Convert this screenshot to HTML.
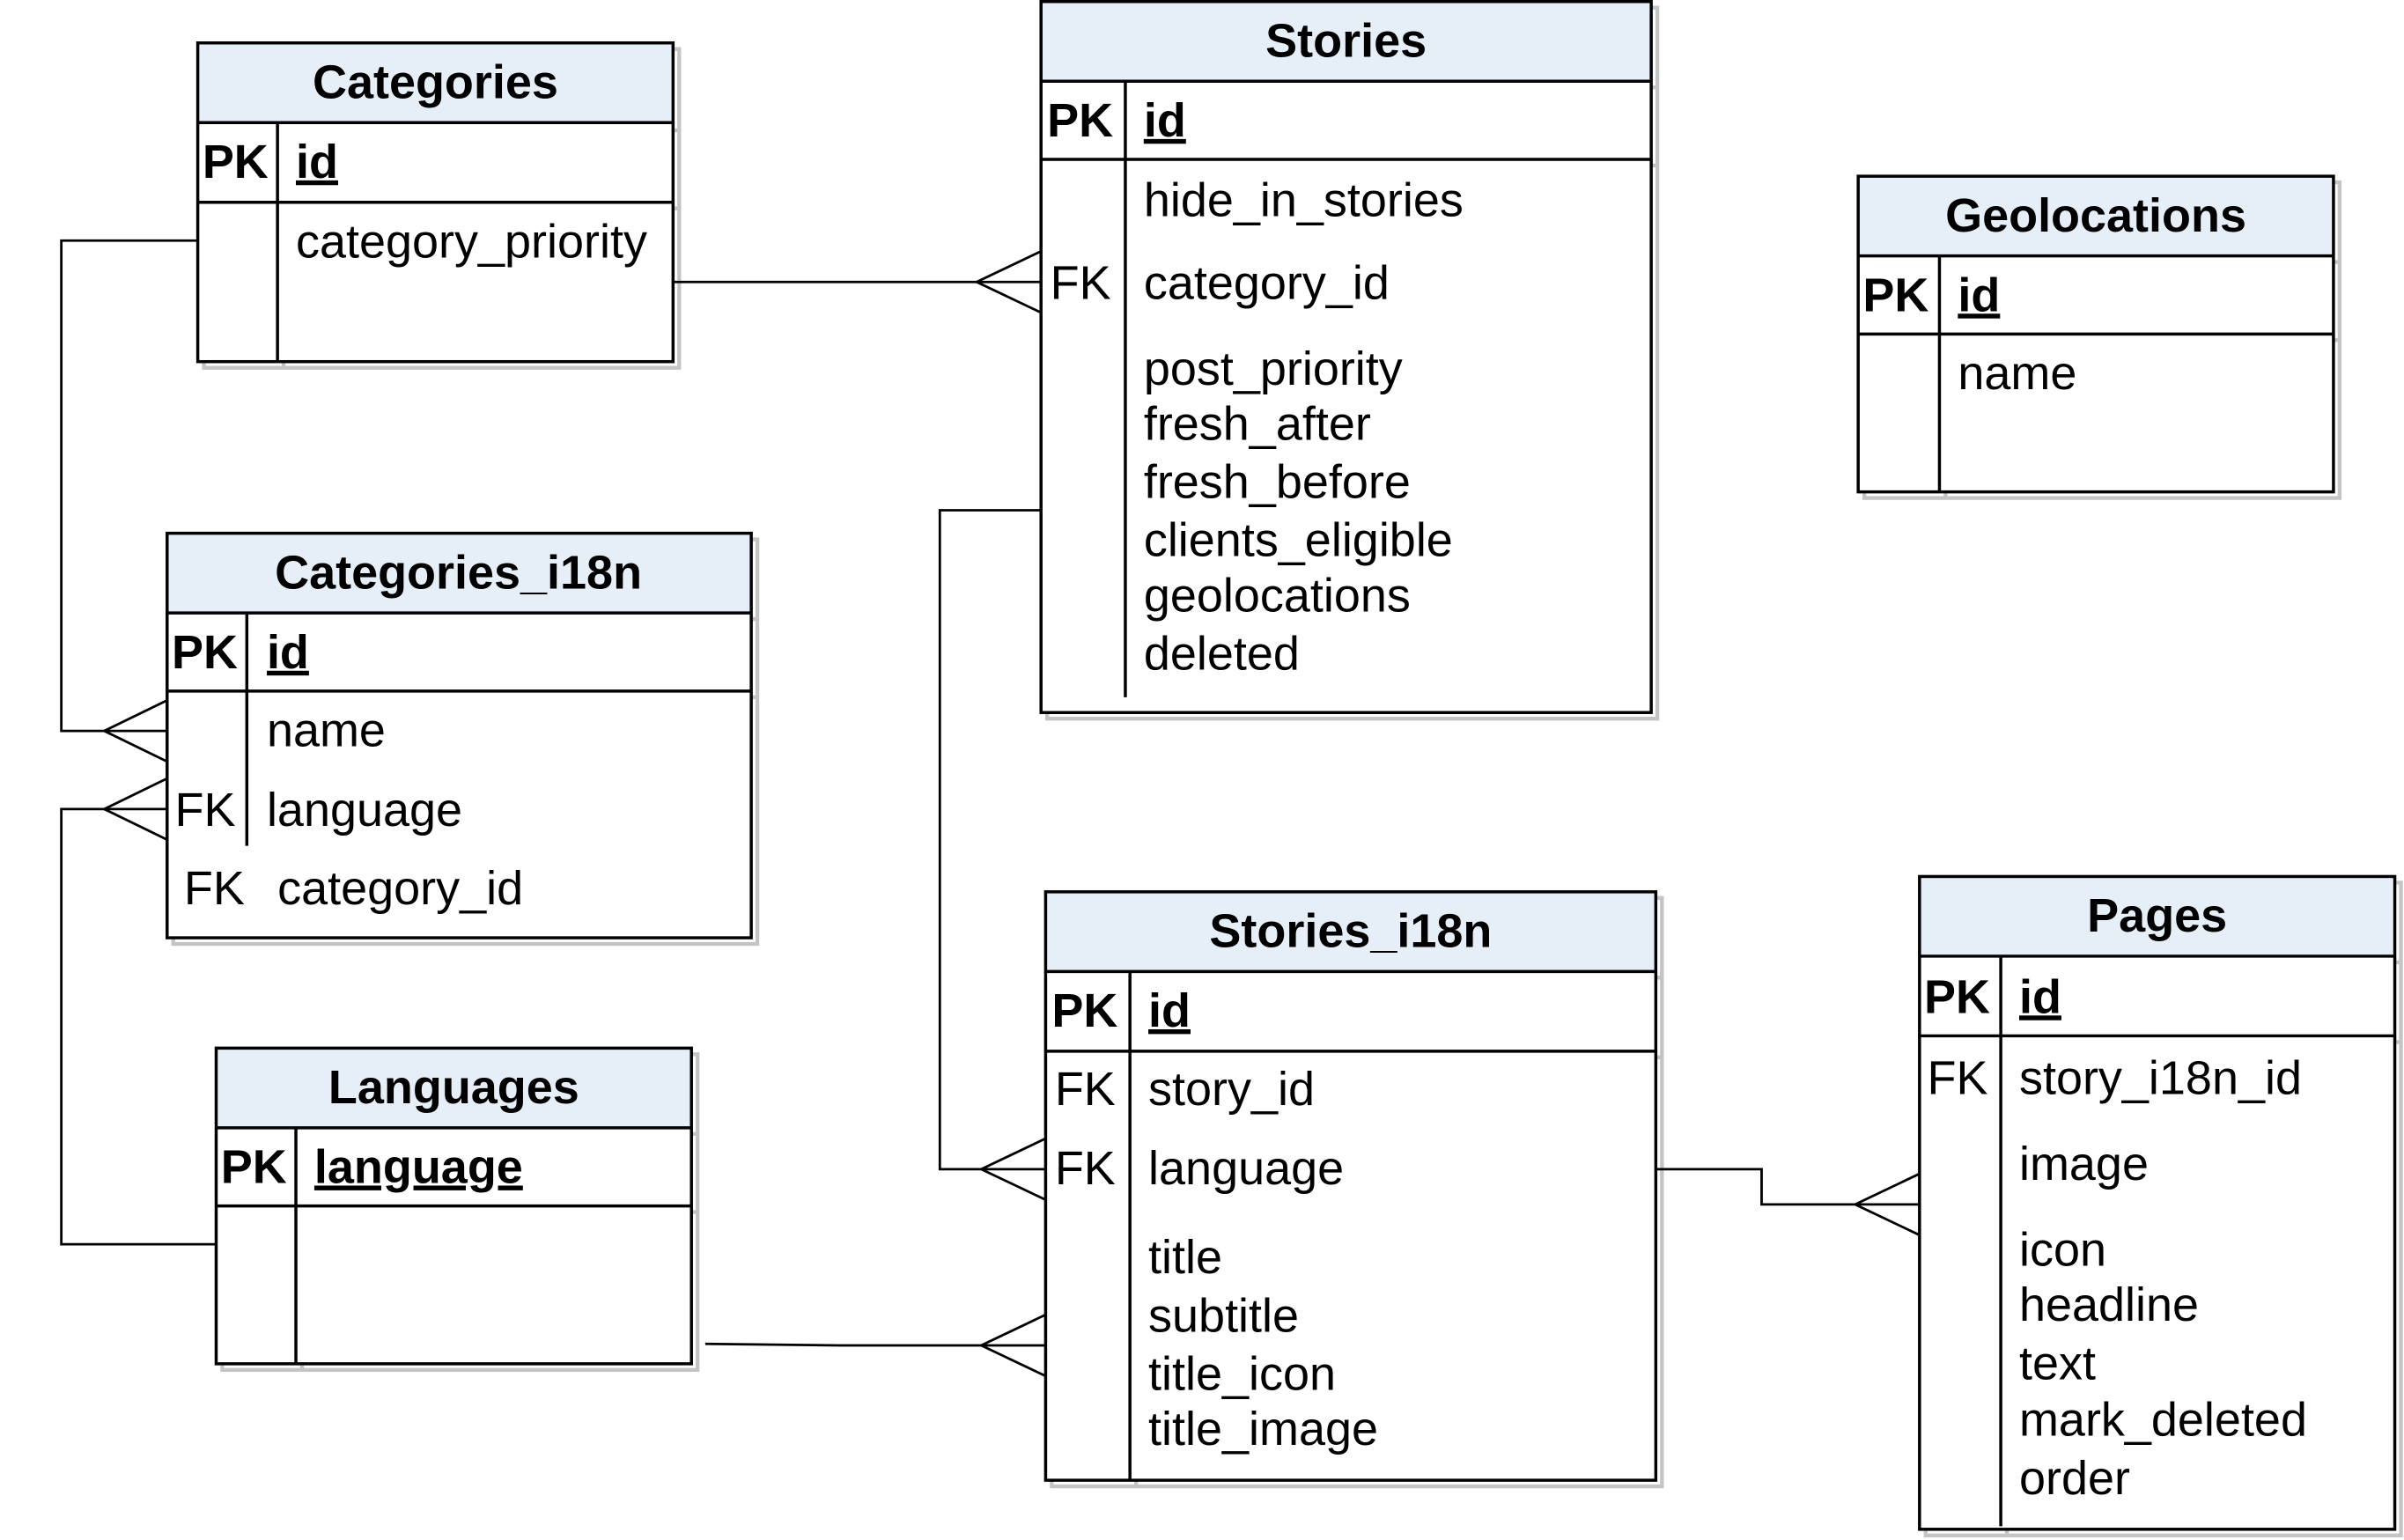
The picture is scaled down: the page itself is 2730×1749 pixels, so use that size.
<!DOCTYPE html>
<html><head><meta charset="utf-8"><style>
html,body{margin:0;padding:0;background:#fff;}
svg{display:block;}
text{font-family:"Liberation Sans",Arial,sans-serif;font-size:31px;fill:#000;}
.b{font-weight:bold;}
</style></head><body>
<svg width="2730" height="1749" viewBox="0 0 1568 1005" preserveAspectRatio="none" xmlns="http://www.w3.org/2000/svg">
<defs>
<style>
.sh{fill:none;stroke:#c4c4c4;stroke-width:2.5}
.ln{fill:none;stroke:#000;stroke-width:2}
.ln2{fill:none;stroke:#000;stroke-width:1.6}
.hd{fill:#e6eef8;stroke:none}
</style>
</defs>

<g>
<rect class="sh" x="133" y="32" width="310" height="208"/>
<line class="sh" x1="133" y1="85" x2="443" y2="85"/><line class="sh" x1="133" y1="136" x2="443" y2="136"/><line class="sh" x1="185" y1="85" x2="185" y2="240"/>
<rect x="129" y="28" width="310" height="208" fill="#fff"/>
<rect class="hd" x="129" y="28" width="310" height="52"/>
<rect class="ln" x="129" y="28" width="310" height="208"/>
<line class="ln" x1="129" y1="80" x2="439" y2="80"/><line class="ln" x1="129" y1="132" x2="439" y2="132"/>
<line class="ln" x1="181" y1="80" x2="181" y2="236"/>
<text class="b" x="284" y="64" text-anchor="middle">Categories</text>
<text class="b" x="132" y="116">PK</text>
<text class="b" x="193" y="116" text-decoration="underline">id</text>
<text x="193" y="168">category_priority</text>
</g>

<g>
<rect class="sh" x="683" y="5" width="398" height="464"/>
<line class="sh" x1="683" y1="57" x2="1081" y2="57"/><line class="sh" x1="683" y1="108" x2="1081" y2="108"/><line class="sh" x1="738" y1="57" x2="738" y2="457"/>
<rect x="679" y="1" width="398" height="464" fill="#fff"/>
<rect class="hd" x="679" y="1" width="398" height="52"/>
<rect class="ln" x="679" y="1" width="398" height="464"/>
<line class="ln" x1="679" y1="53" x2="1077" y2="53"/><line class="ln" x1="679" y1="104" x2="1077" y2="104"/>
<line class="ln" x1="734" y1="53" x2="734" y2="455"/>
<text class="b" x="878" y="37" text-anchor="middle">Stories</text>
<text class="b" x="683" y="89">PK</text>
<text class="b" x="746" y="89" text-decoration="underline">id</text>
<text x="746" y="141">hide_in_stories</text>
<text x="685" y="195">FK</text>
<text x="746" y="195">category_id</text>
<text x="746" y="251">post_priority</text>
<text x="746" y="287">fresh_after</text>
<text x="746" y="325">fresh_before</text>
<text x="746" y="363">clients_eligible</text>
<text x="746" y="399">geolocations</text>
<text x="746" y="437">deleted</text>
</g>

<g>
<rect class="sh" x="1216" y="119" width="310" height="206"/>
<line class="sh" x1="1216" y1="171" x2="1526" y2="171"/><line class="sh" x1="1216" y1="222" x2="1526" y2="222"/><line class="sh" x1="1269" y1="171" x2="1269" y2="325"/>
<rect x="1212" y="115" width="310" height="206" fill="#fff"/>
<rect class="hd" x="1212" y="115" width="310" height="52"/>
<rect class="ln" x="1212" y="115" width="310" height="206"/>
<line class="ln" x1="1212" y1="167" x2="1522" y2="167"/><line class="ln" x1="1212" y1="218" x2="1522" y2="218"/>
<line class="ln" x1="1265" y1="167" x2="1265" y2="321"/>
<text class="b" x="1367" y="151" text-anchor="middle">Geolocations</text>
<text class="b" x="1215" y="203">PK</text>
<text class="b" x="1277" y="203" text-decoration="underline">id</text>
<text x="1277" y="254">name</text>
</g>

<g>
<rect class="sh" x="113" y="352" width="381" height="264"/>
<line class="sh" x1="113" y1="404" x2="494" y2="404"/><line class="sh" x1="113" y1="455" x2="494" y2="455"/><line class="sh" x1="165" y1="404" x2="165" y2="556"/>
<rect x="109" y="348" width="381" height="264" fill="#fff"/>
<rect class="hd" x="109" y="348" width="381" height="52"/>
<rect class="ln" x="109" y="348" width="381" height="264"/>
<line class="ln" x1="109" y1="400" x2="490" y2="400"/><line class="ln" x1="109" y1="451" x2="490" y2="451"/>
<line class="ln" x1="161" y1="400" x2="161" y2="552"/>
<text class="b" x="299" y="384" text-anchor="middle">Categories_i18n</text>
<text class="b" x="112" y="436">PK</text>
<text class="b" x="174" y="436" text-decoration="underline">id</text>
<text x="174" y="487">name</text>
<text x="114" y="539">FK</text>
<text x="174" y="539">language</text>
<text x="120" y="590">FK</text>
<text x="181" y="590">category_id</text>
</g>

<g>
<rect class="sh" x="145" y="688" width="310" height="206"/>
<line class="sh" x1="145" y1="740" x2="455" y2="740"/><line class="sh" x1="145" y1="791" x2="455" y2="791"/><line class="sh" x1="197" y1="740" x2="197" y2="894"/>
<rect x="141" y="684" width="310" height="206" fill="#fff"/>
<rect class="hd" x="141" y="684" width="310" height="52"/>
<rect class="ln" x="141" y="684" width="310" height="206"/>
<line class="ln" x1="141" y1="736" x2="451" y2="736"/><line class="ln" x1="141" y1="787" x2="451" y2="787"/>
<line class="ln" x1="193" y1="736" x2="193" y2="890"/>
<text class="b" x="296" y="720" text-anchor="middle">Languages</text>
<text class="b" x="144" y="772">PK</text>
<text class="b" x="205" y="772" text-decoration="underline">language</text>
</g>

<g>
<rect class="sh" x="686" y="586" width="398" height="384"/>
<line class="sh" x1="686" y1="638" x2="1084" y2="638"/><line class="sh" x1="686" y1="690" x2="1084" y2="690"/><line class="sh" x1="741" y1="638" x2="741" y2="970"/>
<rect x="682" y="582" width="398" height="384" fill="#fff"/>
<rect class="hd" x="682" y="582" width="398" height="52"/>
<rect class="ln" x="682" y="582" width="398" height="384"/>
<line class="ln" x1="682" y1="634" x2="1080" y2="634"/><line class="ln" x1="682" y1="686" x2="1080" y2="686"/>
<line class="ln" x1="737" y1="634" x2="737" y2="966"/>
<text class="b" x="881" y="618" text-anchor="middle">Stories_i18n</text>
<text class="b" x="686" y="670">PK</text>
<text class="b" x="749" y="670" text-decoration="underline">id</text>
<text x="688" y="721">FK</text>
<text x="749" y="721">story_id</text>
<text x="688" y="773">FK</text>
<text x="749" y="773">language</text>
<text x="749" y="831">title</text>
<text x="749" y="869">subtitle</text>
<text x="749" y="907">title_icon</text>
<text x="749" y="943">title_image</text>
</g>

<g>
<rect class="sh" x="1256" y="576" width="310" height="426"/>
<line class="sh" x1="1256" y1="628" x2="1566" y2="628"/><line class="sh" x1="1256" y1="680" x2="1566" y2="680"/><line class="sh" x1="1309" y1="628" x2="1309" y2="1002"/>
<rect x="1252" y="572" width="310" height="426" fill="#fff"/>
<rect class="hd" x="1252" y="572" width="310" height="52"/>
<rect class="ln" x="1252" y="572" width="310" height="426"/>
<line class="ln" x1="1252" y1="624" x2="1562" y2="624"/><line class="ln" x1="1252" y1="676" x2="1562" y2="676"/>
<line class="ln" x1="1305" y1="624" x2="1305" y2="996"/>
<text class="b" x="1407" y="608" text-anchor="middle">Pages</text>
<text class="b" x="1255" y="661">PK</text>
<text class="b" x="1317" y="661" text-decoration="underline">id</text>
<text x="1257" y="714">FK</text>
<text x="1317" y="714">story_i18n_id</text>
<text x="1317" y="770">image</text>
<text x="1317" y="826">icon</text>
<text x="1317" y="862">headline</text>
<text x="1317" y="900">text</text>
<text x="1317" y="937">mark_deleted</text>
<text x="1317" y="975">order</text>
</g>

<g class="ln2">
<polyline class="ln2" points="439,184 679,184"/>
<polyline class="ln2" points="679,164 637,184 679,204"/>
<polyline class="ln2" points="129,157 40,157 40,477 109,477"/>
<polyline class="ln2" points="109,457 68,477 109,497"/>
<polyline class="ln2" points="141,812 40,812 40,528 109,528"/>
<polyline class="ln2" points="109,508 68,528 109,548"/>
<polyline class="ln2" points="679,333 613,333 613,763 682,763"/>
<polyline class="ln2" points="682,743 640,763 682,783"/>
<polyline class="ln2" points="460,877 548,878 682,878"/>
<polyline class="ln2" points="682,858 640,878 682,898"/>
<polyline class="ln2" points="1080,763 1149,763 1149,786 1252,786"/>
<polyline class="ln2" points="1252,766 1210,786 1252,806"/>
</g>
</svg>
</body></html>
